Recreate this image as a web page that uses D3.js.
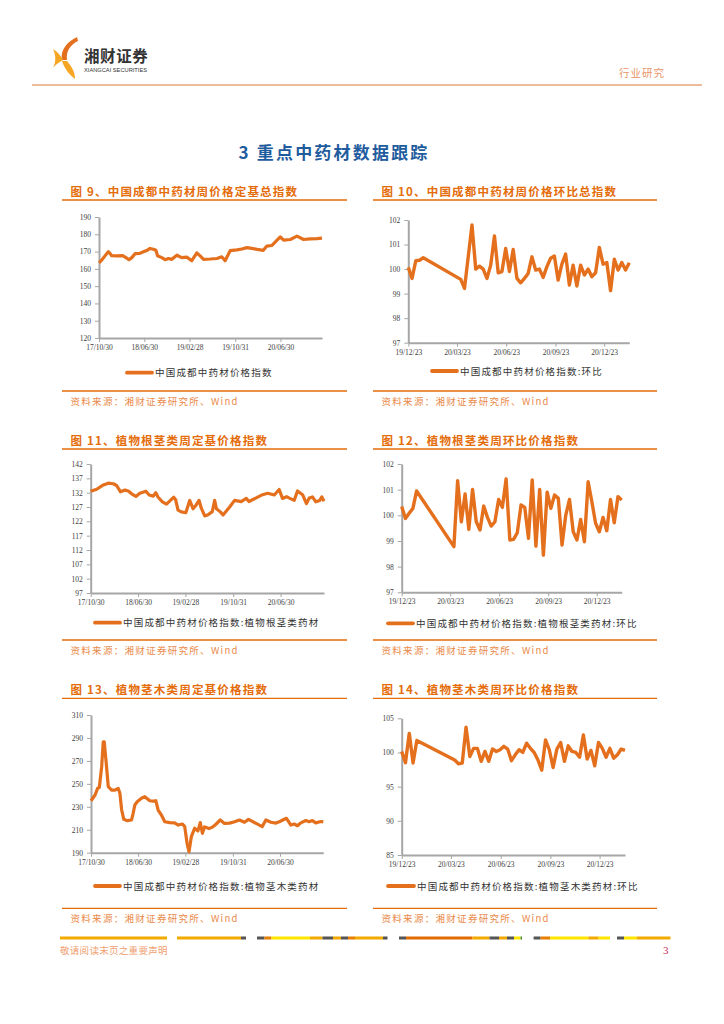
<!DOCTYPE html>
<html><head><meta charset="utf-8">
<script src="https://cdn.jsdelivr.net/npm/d3@7"></script>
<style>
body{margin:0;background:#fff;}
svg{display:block;}
</style></head><body>
<svg id="page" width="724" height="1024"></svg>
<script>
// ---------------- DATA ----------------
const fixedStart = "2017-10-30", fixedEnd = "2021-02-08";
const fixedTicks = ["17/10/30","18/06/30","19/02/28","19/10/31","20/06/30"];
const hbStart = "2019-12-23", hbEnd = "2021-02-08";
const hbTicks = ["19/12/23","20/03/23","20/06/23","20/09/23","20/12/23"];

const c9Dates = ["2017-10-30","2017-11-13","2017-12-01","2017-12-19","2017-12-28","2018-01-06","2018-02-02","2018-03-06","2018-03-24","2018-04-09","2018-04-24","2018-05-12","2018-06-07","2018-06-29","2018-07-13","2018-07-31","2018-08-18","2018-09-01","2018-09-09","2018-10-02","2018-10-20","2018-11-07","2018-11-25","2018-12-22","2019-01-17","2019-02-13","2019-03-12","2019-04-08","2019-04-26","2019-05-14","2019-06-19","2019-07-25","2019-08-20","2019-09-07","2019-10-04","2019-11-09","2019-12-06","2020-01-02","2020-01-20","2020-03-30","2020-04-18","2020-05-14","2020-06-29","2020-07-17","2020-08-22","2020-09-27","2020-11-01","2020-12-07","2021-01-12","2021-02-08"];
const c9Values = [163.5,165,167.5,169.9,169,167.6,167.5,167.6,166.5,165.3,166.5,168.8,169,170,170.6,171.8,171.3,170.7,167.6,166.5,165.3,166,165.5,167.9,166.5,166.8,164.7,169.2,167.5,165.5,165.7,166,167,164.7,170.5,171,171.5,172.3,172,170.7,173.2,173.5,178.5,176.6,177,178.9,177,177.3,177.5,177.8];
const c9YTicks = [120,130,140,150,160,170,180,190];

const c11Dates = ["2017-10-30","2017-11-30","2018-01-03","2018-01-28","2018-02-23","2018-03-12","2018-04-01","2018-04-24","2018-05-11","2018-05-28","2018-06-19","2018-07-09","2018-08-09","2018-08-26","2018-09-16","2018-09-29","2018-10-11","2018-11-02","2018-11-23","2018-12-13","2018-12-30","2019-01-09","2019-01-21","2019-02-07","2019-03-02","2019-03-22","2019-04-08","2019-04-25","2019-05-09","2019-05-21","2019-06-07","2019-06-24","2019-07-16","2019-07-28","2019-08-06","2019-08-26","2019-09-09","2019-10-13","2019-11-07","2019-12-11","2020-01-06","2020-01-20","2020-03-30","2020-04-25","2020-05-29","2020-06-23","2020-07-10","2020-07-31","2020-08-17","2020-09-08","2020-09-25","2020-10-21","2020-11-10","2020-11-24","2020-12-11","2020-12-28","2021-01-17","2021-01-28","2021-02-08"];
const c11Values = [132.5,133.2,134.7,135.3,135.1,134.5,132.3,132.9,132.6,131.6,130.7,131.8,132.5,131.2,130.8,132,130.4,128.8,128,129.3,130.4,129.5,125.9,125.3,125,129.3,126.4,127.8,129.3,126.5,123.9,124.3,125.4,129.3,126.4,125.3,124.2,127,129.3,128.9,130,128.9,131.3,131.8,131.2,133.1,130,130.6,130,129.3,132.6,131.3,128.2,130.1,130.5,128.8,129.3,130.5,129];
const c11YTicks = [97,102,107,112,117,122,127,132,137,142];

const c13Dates = ["2017-10-30","2017-11-20","2017-12-03","2017-12-12","2017-12-24","2018-01-01","2018-01-06","2018-01-15","2018-01-27","2018-02-13","2018-03-02","2018-03-19","2018-03-28","2018-04-06","2018-04-17","2018-05-05","2018-05-27","2018-06-04","2018-06-13","2018-06-25","2018-07-17","2018-08-03","2018-08-29","2018-09-15","2018-09-29","2018-10-11","2018-10-28","2018-11-14","2018-12-10","2019-01-04","2019-01-22","2019-02-13","2019-02-25","2019-03-09","2019-03-19","2019-03-31","2019-04-17","2019-05-04","2019-05-16","2019-05-27","2019-06-07","2019-06-30","2019-07-20","2019-08-06","2019-08-27","2019-09-18","2019-10-14","2019-11-09","2019-12-04","2019-12-30","2020-01-20","2020-03-30","2020-04-18","2020-05-14","2020-06-09","2020-06-26","2020-08-02","2020-08-25","2020-09-11","2020-09-28","2020-10-15","2020-11-10","2020-11-27","2020-12-14","2020-12-31","2021-01-26","2021-02-08"];
const c13Values = [235.3,240.3,246,247,265,286.7,286.7,270.8,247.5,244.6,244.6,246.1,241.8,227.2,219.1,217.9,218.5,224.3,231.6,234.4,237.4,238.8,235.3,235,235.3,227.2,222.8,217,216.2,216,214.1,215,212.7,198.2,190.9,204,211.3,209,216.2,206.9,212.5,211,212.5,215,218.5,215.5,215.8,217,218.5,216.5,219,212.7,218.5,216.5,215.8,217,220,214.1,215,213.5,216,218,217,218,216,217.2,216.8];
const c13YTicks = [190,210,230,250,270,290,310];

const hbDates = ["2019-12-23","2019-12-30","2020-01-06","2020-01-13","2020-01-20","2020-03-30","2020-04-06","2020-04-13","2020-04-20","2020-04-27","2020-05-04","2020-05-11","2020-05-18","2020-05-25","2020-06-01","2020-06-08","2020-06-15","2020-06-22","2020-06-29","2020-07-06","2020-07-13","2020-07-20","2020-07-27","2020-08-03","2020-08-10","2020-08-17","2020-08-24","2020-08-31","2020-09-07","2020-09-14","2020-09-21","2020-09-28","2020-10-05","2020-10-12","2020-10-19","2020-10-26","2020-11-02","2020-11-09","2020-11-16","2020-11-23","2020-11-30","2020-12-07","2020-12-14","2020-12-21","2020-12-28","2021-01-04","2021-01-11","2021-01-18","2021-01-25","2021-02-01","2021-02-08"];
const c10Values = [100.07,99.62,100.34,100.36,100.46,99.58,99.21,100.5,101.8,100.0,100.12,100.0,99.62,100.16,101.35,99.85,99.9,100.84,99.9,100.8,99.62,99.44,99.62,99.82,100.5,99.96,100.0,99.66,100.1,100.44,100.53,99.55,100.2,100.61,99.35,100.16,99.31,100.16,99.76,100.0,99.69,99.85,100.88,100.2,100.27,99.12,100.4,99.96,100.27,99.96,100.26];
const c12Values = [100.34,99.88,100.08,100.27,100.95,98.78,101.35,99.75,100.83,99.45,101.01,99.75,99.43,100.36,99.92,99.58,99.75,100.62,100.31,101.42,99.04,99.06,99.32,100.4,100.31,99.1,101.38,98.8,101.01,98.45,100.9,100.27,100.79,100.66,98.84,100.01,100.62,99.36,99.04,99.84,98.97,101.31,100.53,99.69,99.36,99.92,99.4,100.62,99.71,100.73,100.6];
const c14Values = [100.15,98.5,102.8,98.45,101.75,98.9,98.35,98.45,103.7,99.4,100.6,100.6,98.7,100.15,98.7,100.5,100.15,100.4,100.9,100.5,98.8,99.66,100.4,100,101.36,100.6,100,98.9,97.4,101.84,100.4,97.8,100.5,101.46,98.7,100.97,100.15,100,99.3,102.57,99.03,100.3,98.06,101.46,100.6,99.3,100.6,99.17,99.66,100.5,100.3];
const c10YTicks = [97,98,99,100,101,102];
const c12YTicks = [97,98,99,100,101,102];
const c14YTicks = [85,90,95,100,105];

const titles = ["图 9、中国成都中药材周价格定基总指数","图 10、中国成都中药材周价格环比总指数","图 11、植物根茎类周定基价格指数","图 12、植物根茎类周环比价格指数","图 13、植物茎木类周定基价格指数","图 14、植物茎木类周环比价格指数"];
const legends = ["中国成都中药材价格指数","中国成都中药材价格指数:环比","中国成都中药材价格指数:植物根茎类药材","中国成都中药材价格指数:植物根茎类药材:环比","中国成都中药材价格指数:植物茎木类药材","中国成都中药材价格指数:植物茎木类药材:环比"];
const sourceText = "资料来源：湘财证券研究所、Wind";

// ---------------- DRAW ----------------
const svg = d3.select("#page");
const parse = d3.timeParse("%Y-%m-%d");
const parseTick = d3.timeParse("%y/%m/%d");
const ORANGE = "#E46C0A";
const LINE = "#E4701E";
const CJK = "'Noto Sans CJK SC','Noto Sans',sans-serif";
const SERIF = "'Liberation Serif','DejaVu Serif',serif";

// header
const logo = svg.append("g");
logo.append("path").attr("d","M77,37 C67,42 60,50 62,60 L67,60 C66,51 70,45 78,41 Z").attr("fill","#E2701E");
logo.append("path").attr("d","M53,49 C58,52 61,56 63,60 C60,62 56,64 53,68 C56,62 56,55 53,49 Z").attr("fill","#F6A623");
logo.append("path").attr("d","M62,61 L67,61 C71,66 75,71 75,79 C70,75 65,70 62,61 Z").attr("fill","#F6A623");
svg.append("text").attr("x",84).attr("y",62).text("湘财证券")
  .attr("font-family",CJK).attr("font-size",15.5).attr("font-weight",700).attr("fill","#333").attr("letter-spacing",0.6);
svg.append("text").attr("x",84).attr("y",71.5).text("XIANGCAI SECURITIES")
  .attr("font-family","'Liberation Sans Narrow','Liberation Sans',sans-serif").attr("font-size",6).attr("fill","#333")
  .attr("textLength",63).attr("lengthAdjust","spacingAndGlyphs");
svg.append("text").attr("x",619).attr("y",77).text("行业研究")
  .attr("font-family",CJK).attr("font-size",10.5).attr("fill","#E8956A").attr("letter-spacing",1);
svg.append("line").attr("x1",32).attr("x2",702).attr("y1",85).attr("y2",85).attr("stroke","#E9A47A").attr("stroke-width",1.5);

svg.append("text").attr("x",334).attr("y",159).attr("text-anchor","middle").text("3 重点中药材数据跟踪")
  .attr("font-family",CJK).attr("font-size",17).attr("font-weight",700).attr("fill","#1F5C9E").attr("letter-spacing",2.2);

function drawChart(cfg){
  const g = svg.append("g");
  g.append("text").attr("x",cfg.tx).attr("y",cfg.ty).text(cfg.title)
    .attr("font-family",CJK).attr("font-size",11.5).attr("font-weight",700).attr("fill",ORANGE).attr("letter-spacing",1.2);
  g.append("line").attr("x1",cfg.ux0).attr("x2",cfg.ux1).attr("y1",cfg.uy).attr("y2",cfg.uy).attr("stroke",ORANGE).attr("stroke-width",1.3);

  const x = d3.scaleTime().domain([parse(cfg.x0),parse(cfg.x1)]).range([cfg.left,cfg.right]);
  const yt = cfg.yTicks;
  const y = d3.scaleLinear().domain([yt[0],yt[yt.length-1]]).range([cfg.bottom,cfg.top]);

  const ya = g.append("g").attr("transform",`translate(${cfg.left},0)`)
    .call(d3.axisLeft(y).tickValues(yt).tickSize(4).tickPadding(4).tickSizeOuter(0).tickFormat(d3.format("d")));
  const xa = g.append("g").attr("transform",`translate(0,${cfg.bottom})`)
    .call(d3.axisBottom(x).tickValues(cfg.xTicks.map(parseTick)).tickSize(4).tickPadding(2.5).tickSizeOuter(0).tickFormat(d3.timeFormat("%y/%m/%d")));
  [ya,xa].forEach(a=>{
    a.select(".domain").attr("stroke","#A6A6A6").attr("stroke-width",2);
    a.selectAll(".tick line").attr("stroke","#A6A6A6").attr("stroke-width",1);
    a.selectAll(".tick text").attr("font-family",SERIF).attr("font-size",7.5).attr("fill","#404040");
  });

  const data = cfg.dates.map((d,i)=>({d:parse(d),v:cfg.values[i]}));
  g.append("path").datum(data)
    .attr("d",d3.line().x(d=>x(d.d)).y(d=>y(d.v)))
    .attr("fill","none").attr("stroke",LINE).attr("stroke-width",cfg.lw||3.2).attr("stroke-linejoin","round");

  g.append("line").attr("x1",cfg.lx0).attr("x2",cfg.lx1).attr("y1",cfg.ly).attr("y2",cfg.ly)
    .attr("stroke",LINE).attr("stroke-width",3.8).attr("stroke-linecap","round");
  g.append("text").attr("x",cfg.lx1+3).attr("y",cfg.ly+3.5).text(cfg.legend)
    .attr("font-family",CJK).attr("font-size",9.5).attr("fill","#333").attr("letter-spacing",1.2);

  g.append("line").attr("x1",cfg.ux0).attr("x2",cfg.ux1).attr("y1",cfg.sy).attr("y2",cfg.sy).attr("stroke",ORANGE).attr("stroke-width",1.3);
  g.append("text").attr("x",cfg.tx).attr("y",cfg.sy+14).text(sourceText)
    .attr("font-family",CJK).attr("font-size",9.5).attr("fill","#EA8A4A").attr("letter-spacing",1.3);
}

const L = {tx:70.5, ux0:62, ux1:347};
const R = {tx:381.5, ux0:373, ux1:657};

drawChart(Object.assign({},L,{title:titles[0],ty:195.5,uy:200,x0:fixedStart,x1:fixedEnd,xTicks:fixedTicks,
  left:99,right:322,top:217,bottom:338,yTicks:c9YTicks,dates:c9Dates,values:c9Values,
  lx0:127,lx1:152,ly:372.7,legend:legends[0],sy:391}));
drawChart(Object.assign({},R,{title:titles[1],ty:195.5,uy:200,x0:hbStart,x1:hbEnd,xTicks:hbTicks,
  left:408.3,right:629.3,top:220,bottom:342.7,yTicks:c10YTicks,dates:hbDates,values:c10Values,
  lx0:432,lx1:457,ly:371,legend:legends[1],sy:391,lw:3.4}));
drawChart(Object.assign({},L,{title:titles[2],ty:444.5,uy:449,x0:fixedStart,x1:fixedEnd,xTicks:fixedTicks,
  left:90.7,right:324,top:464,bottom:593,yTicks:c11YTicks,dates:c11Dates,values:c11Values,
  lx0:95,lx1:120,ly:622.7,legend:legends[2],sy:640}));
drawChart(Object.assign({},R,{title:titles[3],ty:444.5,uy:449,x0:hbStart,x1:hbEnd,xTicks:hbTicks,
  left:401.7,right:621.7,top:464,bottom:592.3,yTicks:c12YTicks,dates:hbDates,values:c12Values,
  lx0:388,lx1:413,ly:623.3,legend:legends[3],sy:640,lw:3.4}));
drawChart(Object.assign({},L,{title:titles[4],ty:693.5,uy:698.3,x0:fixedStart,x1:fixedEnd,xTicks:fixedTicks,
  left:91,right:323.3,top:715,bottom:852.7,yTicks:c13YTicks,dates:c13Dates,values:c13Values,
  lx0:95,lx1:120,ly:886,legend:legends[4],sy:908.3}));
drawChart(Object.assign({},R,{title:titles[5],ty:693.5,uy:698.3,x0:hbStart,x1:hbEnd,xTicks:hbTicks,
  left:401.7,right:625,top:718.3,bottom:855,yTicks:c14YTicks,dates:hbDates,values:c14Values,
  lx0:388,lx1:414,ly:886,legend:legends[5],sy:908.3,lw:3.4}));

// footer decorative bar
const AMB="#F2A900", GRY="#555555", ORG="#E87F00", YEL="#FFE600", DOR="#E06B00", GRN="#3A8A3A";
const footSegs = [[60,167,AMB],[177,241,AMB],[241,246,GRY],[257,264.5,GRY],[264.5,271.5,ORG],[271.5,310,YEL],[310,322.5,AMB],[322.5,333,GRY],[333,341,AMB],[341,348,GRY],[348,355,ORG],[355,383,AMB],[383,387.5,GRY],
  [399,406,GRY],[406,472.4,DOR],[472.4,489.5,AMB],[489.5,499,GRY],[499,507,AMB],[507,514,GRY],[514,520.6,YEL],[520.6,522,GRN],
  [533.6,540.6,GRY],[540.6,550,ORG],[550,588.4,YEL],[588.4,598.6,AMB],[598.6,610,YEL],[617,624,GRY],[624,636.7,YEL],[636.7,670.5,AMB]];
svg.append("g").selectAll("rect").data(footSegs).join("rect")
  .attr("x",d=>d[0]).attr("width",d=>d[1]-d[0]).attr("y",936.5).attr("height",3).attr("fill",d=>d[2]);
svg.append("text").attr("x",60).attr("y",954).text("敬请阅读末页之重要声明")
  .attr("font-family",CJK).attr("font-size",9.5).attr("fill","#F0A070").attr("letter-spacing",0.3);
svg.append("text").attr("x",663).attr("y",954).text("3")
  .attr("font-family",SERIF).attr("font-size",11).attr("fill","#C8305A");
</script></body></html>
